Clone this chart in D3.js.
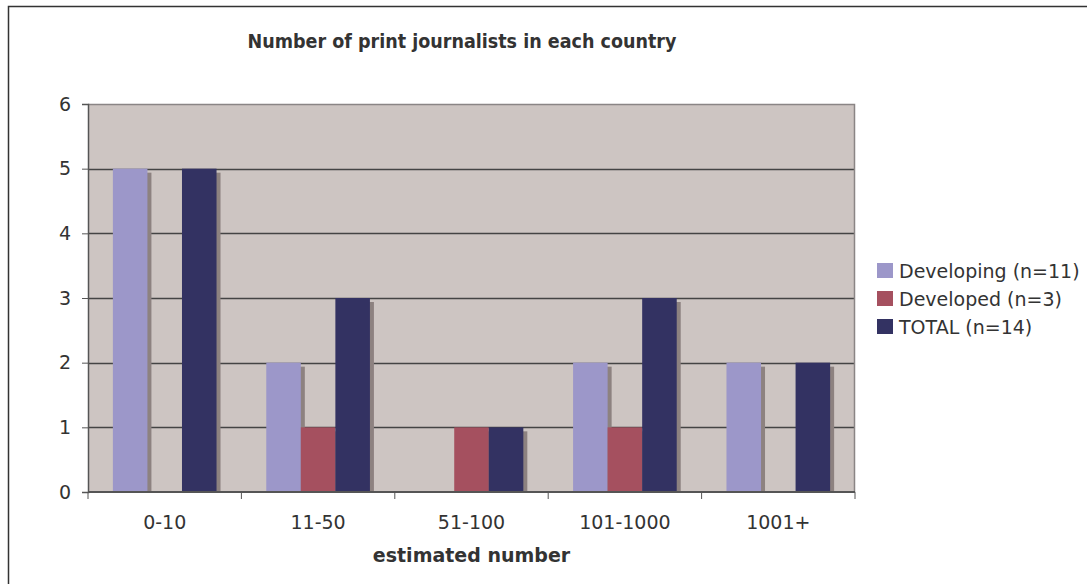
<!DOCTYPE html>
<html>
<head>
<meta charset="utf-8">
<script src="https://d3js.org/d3.v7.min.js"></script>
<style>
  html, body { margin: 0; padding: 0; background: #fff; }
  svg { display: block; }
  text { font-family: "DejaVu Sans", Verdana, sans-serif; fill: #333; }
</style>
</head>
<body>
<svg id="chart" width="1087" height="584"></svg>
<script>
// Chart data
const categories = ["0-10", "11-50", "51-100", "101-1000", "1001+"];
const seriesNames = ["Developing (n=11)", "Developed (n=3)", "TOTAL (n=14)"];
const developing = [5, 2, 0, 2, 2];
const developed = [0, 1, 1, 1, 0];
const total = [5, 3, 1, 3, 2];
const yTicks = [0, 1, 2, 3, 4, 5, 6];
const titleText = "Number of print journalists in each country";
const xTitleText = "estimated number";

const colors = ["#9c97c9", "#a5505f", "#333262"];
const seriesValues = [developing, developed, total];

const svg = d3.select("#chart");

// Outer frame
svg.append("rect")
  .attr("x", 8.5).attr("y", 6.5)
  .attr("width", 1200).attr("height", 700)
  .attr("fill", "#fff").attr("stroke", "#333").attr("stroke-width", 1.5);

const plot = { left: 88, right: 855, top: 104, bottom: 492 };

const x0 = d3.scaleBand()
  .domain(categories)
  .range([plot.left, plot.right])
  .paddingInner(0).paddingOuter(0);

const x1 = d3.scaleBand()
  .domain(d3.range(seriesNames.length))
  .range([0, x0.bandwidth()])
  .paddingOuter(0.72).paddingInner(0);

const y = d3.scaleLinear().domain([0, 6]).range([plot.bottom, plot.top]);

// Plot background
svg.append("rect")
  .attr("x", plot.left).attr("y", plot.top)
  .attr("width", plot.right - plot.left).attr("height", plot.bottom - plot.top)
  .attr("fill", "#cdc5c2");

// Gridlines
svg.append("g").selectAll("line")
  .data(yTicks.filter(d => d > 0 && d < 6))
  .join("line")
  .attr("x1", plot.left).attr("x2", plot.right)
  .attr("y1", d => Math.round(y(d)) + 0.5).attr("y2", d => Math.round(y(d)) + 0.5)
  .attr("stroke", "#444").attr("stroke-width", 1.4);

// Plot frame (top and right)
svg.append("path")
  .attr("d", `M${plot.left},${plot.top + 0.5}H${plot.right - 0.5}V${plot.bottom}`)
  .attr("fill", "none").attr("stroke", "#8a8585").attr("stroke-width", 1.5);

// Flatten bar data
const bars = [];
categories.forEach((c, ci) => {
  seriesValues.forEach((vals, si) => {
    bars.push({ cat: c, s: si, v: vals[ci] });
  });
});
const shown = bars.filter(d => d.v > 0);

// Shadows first, then bars on top
const shadowOff = 4;
svg.append("g").selectAll("rect")
  .data(shown)
  .join("rect")
  .attr("x", d => x0(d.cat) + x1(d.s) + shadowOff)
  .attr("y", d => y(d.v) + shadowOff)
  .attr("width", x1.bandwidth())
  .attr("height", d => plot.bottom - y(d.v) - shadowOff)
  .attr("fill", "#8d8280");

svg.append("g").selectAll("rect")
  .data(shown)
  .join("rect")
  .attr("x", d => x0(d.cat) + x1(d.s))
  .attr("y", d => y(d.v))
  .attr("width", x1.bandwidth())
  .attr("height", d => plot.bottom - y(d.v))
  .attr("fill", d => colors[d.s]);

// Y axis
const yAxis = d3.axisLeft(y).tickValues(yTicks).tickSize(6).tickPadding(11).tickFormat(d3.format("d"));
const gy = svg.append("g").attr("transform", `translate(${plot.left},0)`).call(yAxis);
gy.select(".domain").attr("stroke", "#555").attr("stroke-width", 1.5);
gy.selectAll(".tick line").attr("stroke", "#555");
gy.selectAll(".tick text").attr("font-size", 19).attr("fill", "#333")
  .style("font-family", '"DejaVu Sans", Verdana, sans-serif');

// X axis: baseline, boundary ticks and centred labels
const gx = svg.append("g");
gx.append("line")
  .attr("x1", plot.left).attr("x2", plot.right)
  .attr("y1", plot.bottom).attr("y2", plot.bottom)
  .attr("stroke", "#555").attr("stroke-width", 1.8);
const boundaries = categories.map(c => x0(c)).concat([x0.range()[1]]);
gx.selectAll("line.tk")
  .data(boundaries)
  .join("line").attr("class", "tk")
  .attr("x1", d => d).attr("x2", d => d)
  .attr("y1", plot.bottom).attr("y2", plot.bottom + 7)
  .attr("stroke", "#555");
gx.selectAll("text")
  .data(categories)
  .join("text")
  .attr("x", d => x0(d) + x0.bandwidth() / 2)
  .attr("y", 529)
  .attr("text-anchor", "middle")
  .attr("font-size", 19)
  .text(d => d);

// Titles
svg.append("text")
  .attr("x", 462).attr("y", 48)
  .attr("text-anchor", "middle")
  .attr("font-size", 19.5).attr("font-weight", "bold")
  .style("font-family", '"DejaVu Sans Condensed", "DejaVu Sans", sans-serif')
  .text(titleText);

svg.append("text")
  .attr("x", (plot.left + plot.right) / 2).attr("y", 562)
  .attr("text-anchor", "middle")
  .attr("font-size", 19).attr("font-weight", "bold")
  .text(xTitleText);

// Legend
const legend = svg.append("g").attr("transform", "translate(877,263)");
const items = legend.selectAll("g")
  .data(seriesNames)
  .join("g")
  .attr("transform", (d, i) => `translate(0,${i * 28})`);
items.append("rect")
  .attr("width", 16).attr("height", 15)
  .attr("fill", (d, i) => colors[i]);
items.append("text")
  .attr("x", 22).attr("y", 15)
  .attr("font-size", 19)
  .text(d => d);
</script>
</body>
</html>
